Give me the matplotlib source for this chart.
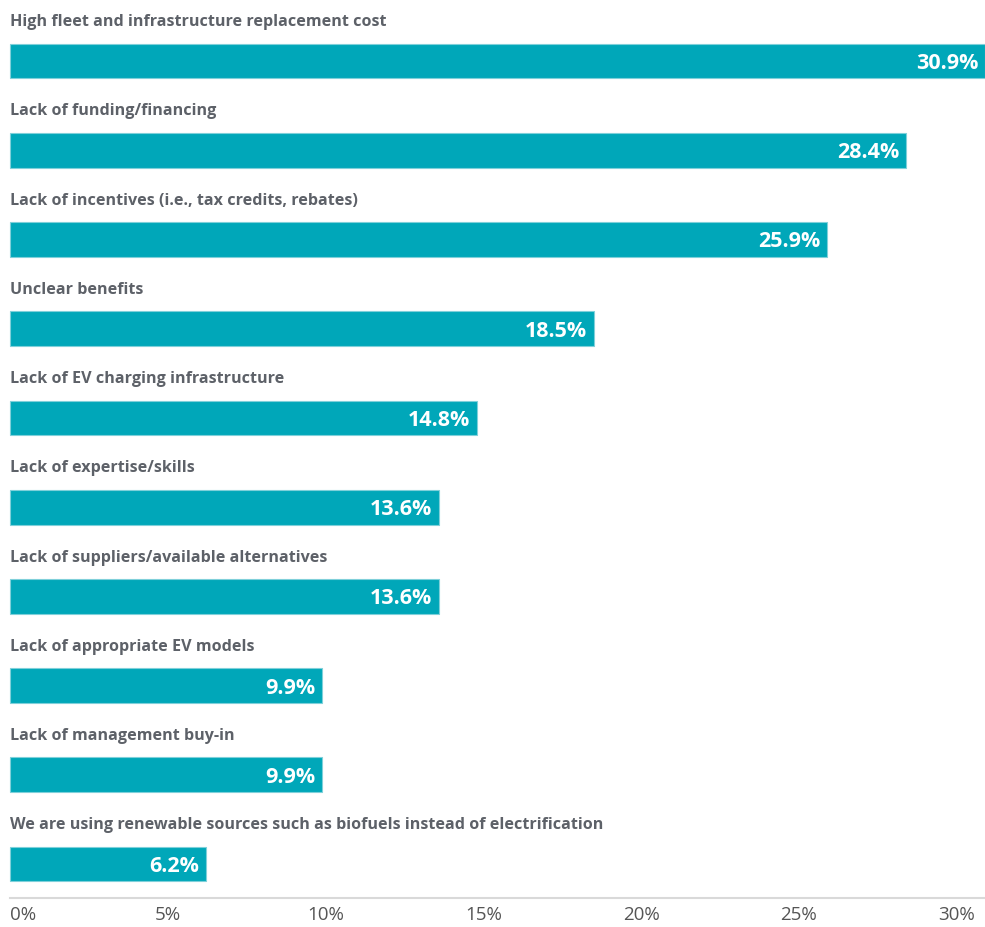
import matplotlib
matplotlib.use("Agg")
import matplotlib.pyplot as plt

categories = [
    "High fleet and infrastructure replacement cost",
    "Lack of funding/financing",
    "Lack of incentives (i.e., tax credits, rebates)",
    "Unclear benefits",
    "Lack of EV charging infrastructure",
    "Lack of expertise/skills",
    "Lack of suppliers/available alternatives",
    "Lack of appropriate EV models",
    "Lack of management buy-in",
    "We are using renewable sources such as biofuels instead of electrification",
]
values = [30.9, 28.4, 25.9, 18.5, 14.8, 13.6, 13.6, 9.9, 9.9, 6.2]
xticks = [0, 5, 10, 15, 20, 25, 30]
xtick_labels = ["0%", "5%", "10%", "15%", "20%", "25%", "30%"]

label_family = ["Open Sans", "DejaVu Sans"]

W, H = 985, 927
fig = plt.figure(figsize=(W / 100, H / 100), dpi=100)
ax = fig.add_axes([10 / W, (H - 898) / H, (985 - 10) / W, 898 / H])

bar_color = "#00A7B9"
n = len(categories)
pos = list(range(n))
ax.barh(pos, values, height=0.39, color=bar_color, edgecolor="#7fd0da", linewidth=0.8, clip_on=False)

ax.set_xlim(0, 30.9)
ax.set_ylim(9.38, -0.684)

for i, (c, v) in enumerate(zip(categories, values)):
    ax.text(0, i - 0.39, c, ha="left", va="baseline", fontsize=11.6, fontweight="bold",
            color="#5d6168", family=label_family, clip_on=False)
    ax.text(v - 0.22, i, f"{v:.1f}%", ha="right", va="center_baseline", fontsize=15.5,
            fontweight="bold", color="white", family=["Open Sans", "DejaVu Sans"])

for s in ["top", "right", "left"]:
    ax.spines[s].set_visible(False)
ax.spines["bottom"].set_color("#d9d9d9")
ax.spines["bottom"].set_linewidth(1.5)
ax.set_yticks([])
ax.set_xticks(xticks)
ax.set_xticklabels(xtick_labels, fontsize=13.5, color="#555555", family=["Open Sans", "DejaVu Sans"])
ax.tick_params(axis="x", length=0, pad=6)
lbls = ax.get_xticklabels()
lbls[0].set_ha("left")
lbls[-1].set_ha("center")

fig.savefig("out.png", dpi=100, facecolor="white")
